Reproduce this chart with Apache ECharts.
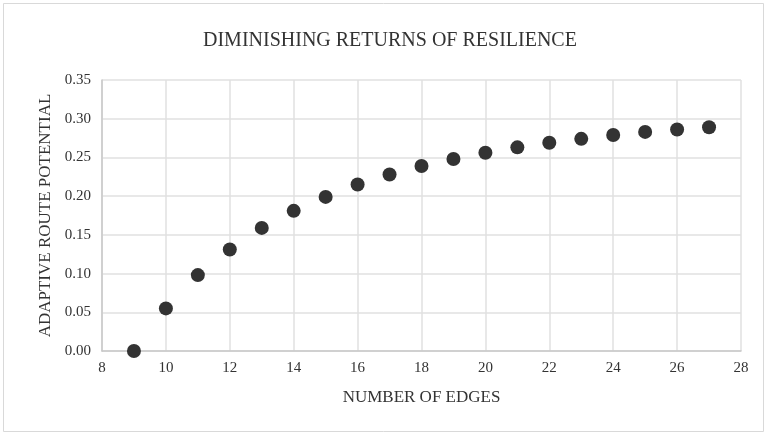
<!DOCTYPE html>
<html>
<head>
<meta charset="utf-8">
<script src="https://cdn.jsdelivr.net/npm/echarts@6/dist/echarts.min.js"></script>
<style>
  html, body { margin: 0; padding: 0; background: #fff; }
  #chart { width: 768px; height: 436px; }
</style>
</head>
<body>
<div id="chart"></div>
<script>
// edges vs adaptive route potential
const edges = [9, 10, 11, 12, 13, 14, 15, 16, 17, 18, 19, 20, 21, 22, 23, 24, 25, 26, 27];
const potential = [0.000, 0.055, 0.098, 0.131, 0.159, 0.181, 0.199, 0.215, 0.228, 0.239, 0.248, 0.256, 0.263, 0.269, 0.274, 0.279, 0.283, 0.286, 0.289];

const font = '"Liberation Serif", "Times New Roman", serif';
const textColor = '#333';

const chart = echarts.init(document.getElementById('chart'));
chart.setOption({
    backgroundColor: '#fff',
    animation: false,
    title: {
        text: 'DIMINISHING RETURNS OF RESILIENCE',
        left: 198,
        top: 26,
        textStyle: { fontFamily: font, fontSize: 20, fontWeight: 'normal', color: textColor }
    },
    graphic: [{
        type: 'rect',
        shape: { x: 3.5, y: 3.5, width: 760, height: 428 },
        style: { fill: 'none', stroke: '#d9d9d9', lineWidth: 1 },
        silent: true
    }],
    grid: { left: 102, right: 27, top: 80, bottom: 85 },
    xAxis: {
        type: 'value',
        min: 8,
        max: 28,
        interval: 2,
        name: 'NUMBER OF EDGES',
        nameLocation: 'middle',
        nameGap: 38,
        nameTextStyle: { fontFamily: font, fontSize: 17, color: textColor },
        axisLine: { show: true, lineStyle: { color: '#c8c8c8', width: 1.5 } },
        axisTick: { show: false },
        axisLabel: { fontFamily: font, fontSize: 15, color: textColor, margin: 10 },
        splitLine: { show: true, lineStyle: { color: '#e0e0e0', width: 1.5 } }
    },
    yAxis: {
        type: 'value',
        min: 0,
        max: 0.35,
        interval: 0.05,
        name: 'ADAPTIVE ROUTE POTENTIAL',
        nameLocation: 'middle',
        nameGap: 42,
        nameTextStyle: { fontFamily: font, fontSize: 17, color: textColor },
        axisLine: { show: true, lineStyle: { color: '#c8c8c8', width: 1.5 } },
        axisTick: { show: false },
        axisLabel: {
            fontFamily: font, fontSize: 15, color: textColor, margin: 11,
            formatter: v => v.toFixed(2)
        },
        splitLine: { show: true, lineStyle: { color: '#e0e0e0', width: 1.5 } }
    },
    series: [{
        type: 'scatter',
        data: edges.map((e, i) => [e, potential[i]]),
        symbolSize: 14,
        itemStyle: { color: '#333', opacity: 1 }
    }]
});
</script>
</body>
</html>
